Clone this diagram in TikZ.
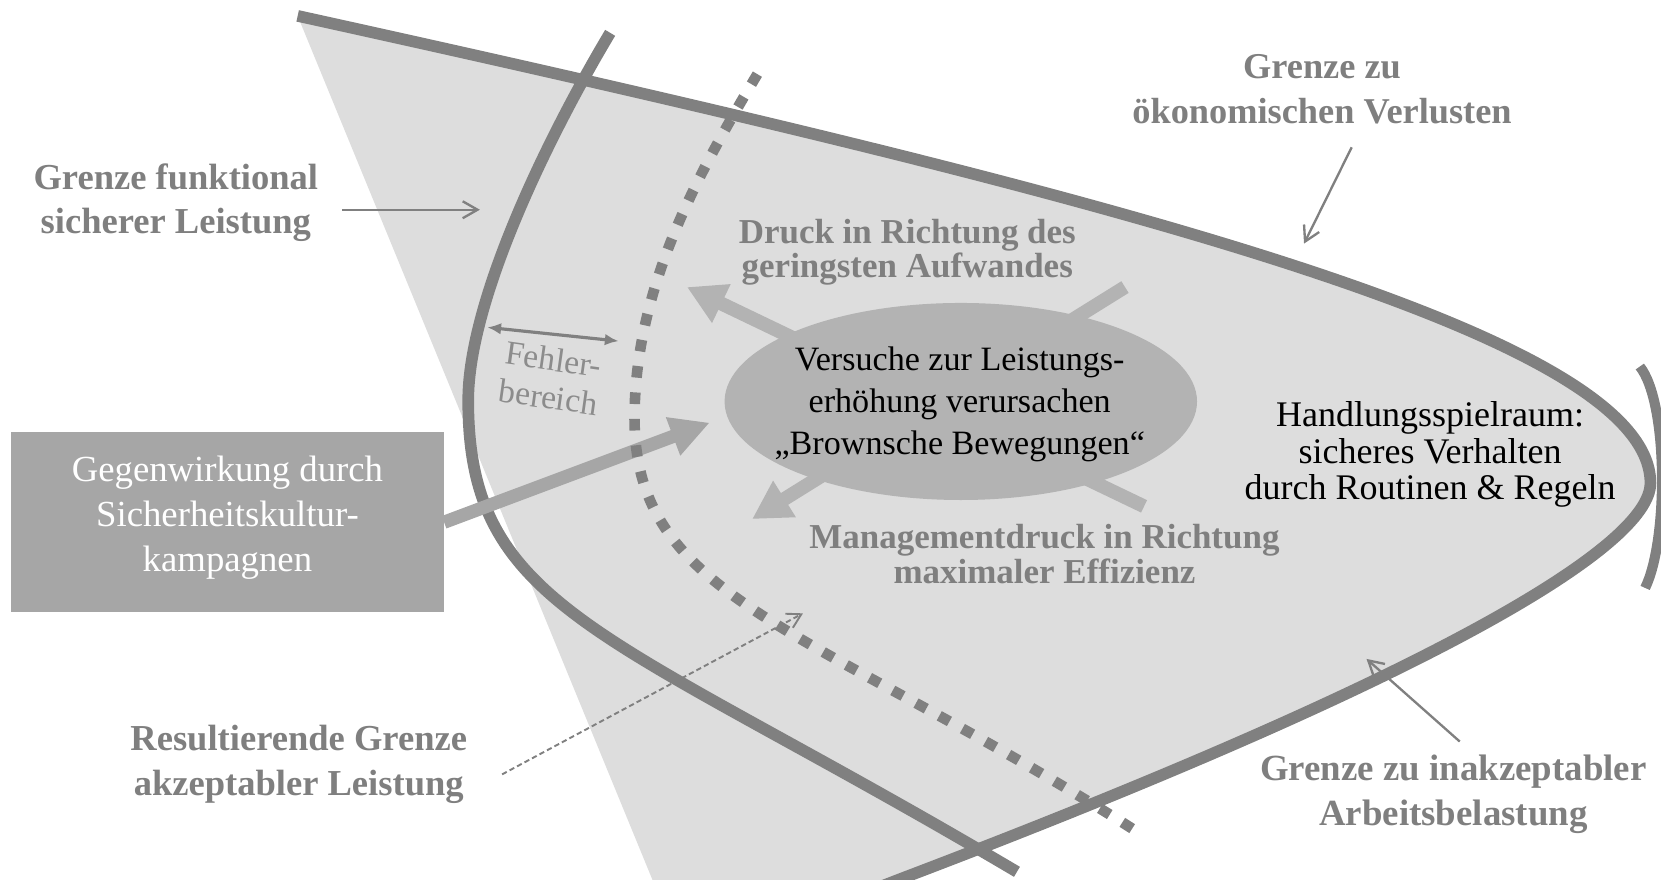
\documentclass[tikz,border=0pt]{standalone}
\usepackage{fontspec}
\setmainfont{Liberation Serif}
\usetikzlibrary{arrows.meta,shapes.geometric}
\definecolor{linegray}{HTML}{808080}
\definecolor{areagray}{HTML}{DDDDDD}
\definecolor{ellgray}{HTML}{B3B3B3}
\definecolor{boxgray}{HTML}{A6A6A6}
\definecolor{labgray}{HTML}{7F7F7F}
\definecolor{errgray}{HTML}{8C8C8C}
\begin{document}
\begin{tikzpicture}[x=1pt,y=-1pt,
  bound/.style={draw=linegray,line width=11pt},
  dotbound/.style={draw=linegray,line width=10pt,dash pattern=on 11pt off 14pt},
  lbl/.style={text=labgray,align=center,inner sep=0pt},
  blk/.style={text=black,align=center,inner sep=0pt},
  thinarrow/.style={draw=linegray,line width=2.2pt,-{Straight Barb[length=14pt,width=16pt]}},
  dasharrow/.style={draw=linegray,line width=1.8pt,dash pattern=on 5pt off 3pt,-{Straight Barb[length=13pt,width=15pt]}},
  errarrow/.style={draw=linegray,line width=3pt,{Latex[length=13pt,width=11pt]}-{Latex[length=13pt,width=11pt]}},
  bigarrow/.style={draw=ellgray,line width=13pt,-{Triangle[length=36pt,width=38pt]}},
  gwarrow/.style={draw=boxgray,line width=12.5pt,-{Triangle[length=37pt,width=36pt]}},
]
\useasboundingbox (0,0) rectangle (1568,830);
\clip (0,0) rectangle (1568,830);

% shaded operating area
\fill[areagray] (281,15) .. controls (1035,181) and (1558,314) .. (1558,456)
  .. controls (1558,516) and (1352,639) .. (852,829) -- (772,860) -- (628,860) -- cycle;

% boundaries
\draw[bound] (281,15) .. controls (1035,181) and (1558,314) .. (1558,456)
  .. controls (1558,516) and (1352,639) .. (852,829) -- (772,860);
\draw[bound,line width=9.5pt] (1548,346) .. controls (1575,380) and (1575,510) .. (1553,555);
\draw[bound] (576,31) .. controls (518,128) and (442,283) .. (442,378)
  .. controls (442,578) and (573,594) .. (960,823);

% counter-action box and arrow
\node[fill=boxgray,minimum width=408.6pt,minimum height=170pt,inner sep=0pt,
  text=white,align=center,font=\fontsize{34.7}{42.5}\selectfont] (gw) at (214.7,493)
  {Gegenwirkung durch\\Sicherheitskultur-\\kampagnen\rule[-16pt]{0pt}{16pt}};
\coordinate (gwtip) at (670,399);
\draw[gwarrow] (gw.east) -- (gwtip);

\draw[dotbound] (715,70) .. controls (655,170) and (599,275) .. (599,395)
  .. controls (599,565) and (761,590) .. (1059,776) -- (1070,783);

% Brownian motion arrows
\coordinate (startA) at (1080,478);
\coordinate (tipA) at (648.5,271);
\coordinate (startB) at (1062,271);
\coordinate (tipB) at (710,490);
\draw[bigarrow] (startA) -- (tipA);
\draw[bigarrow] (startB) -- (tipB);

\node[ellipse,fill=ellgray,minimum width=446pt,minimum height=186pt,inner sep=0pt] (ell) at (907,379) {};
\node[blk,font=\fontsize{32.2}{39.5}\selectfont] (elltext) at (906,382)
  {Versuche zur Leistungs-\\erhöhung verursachen\\„Brownsche Bewegungen“};

% labels
\node[lbl,font=\bfseries\fontsize{34.5}{41.5}\selectfont] (funk) at (166,191)
  {Grenze funktional\\sicherer Leistung};
\node[lbl,font=\bfseries\fontsize{34.3}{42.5}\selectfont] (oeko) at (1248,84)
  {Grenze zu\\ökonomischen Verlusten};
\node[lbl,font=\bfseries\fontsize{33}{31.5}\selectfont] (druck) at (856.5,238)
  {Druck in Richtung des\\geringsten Aufwandes};
\node[lbl,font=\bfseries\fontsize{33}{33}\selectfont] (mgmt) at (986,523)
  {Managementdruck in Richtung\\maximaler Effizienz};
\node[lbl,font=\bfseries\fontsize{34.5}{42.5}\selectfont] (result) at (282,722)
  {Resultierende Grenze\\akzeptabler Leistung};
\node[lbl,font=\bfseries\fontsize{34.8}{43}\selectfont] (inakz) at (1372,750)
  {Grenze zu inakzeptabler\\Arbeitsbelastung};
\node[blk,font=\fontsize{34}{34.5}\selectfont] (hand) at (1350,429)
  {Handlungsspielraum:\\sicheres Verhalten\\durch Routinen \& Regeln};
\node[text=errgray,align=center,inner sep=0pt,rotate=-8,font=\fontsize{31.8}{36}\selectfont] (fehler) at (520,357)
  {Fehler-\\bereich};

% pointer arrows
\coordinate (funkA) at (323,198);
\coordinate (funkB) at (453,198);
\draw[thinarrow] (funkA) -- (funkB);
\coordinate (oekoA) at (1276,139);
\coordinate (oekoB) at (1231,230);
\draw[thinarrow] (oekoA) -- (oekoB);
\coordinate (inakzA) at (1378,700);
\coordinate (inakzB) at (1290,622);
\draw[thinarrow] (inakzA) -- (inakzB);
\coordinate (resA) at (474,731);
\coordinate (resB) at (758,579);
\draw[dasharrow] (resA) -- (resB);
\coordinate (errA) at (460,309);
\coordinate (errB) at (584,322);
\draw[errarrow] (errA) -- (errB);
\end{tikzpicture}
\end{document}
